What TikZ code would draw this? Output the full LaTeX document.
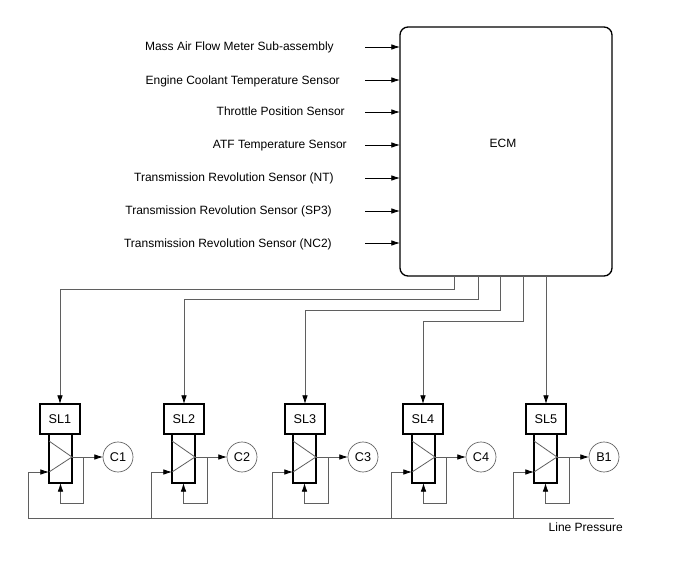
\documentclass[tikz,border=0pt]{standalone}
\usepackage{fontspec}
\setmainfont{Liberation Sans}
\usetikzlibrary{arrows.meta,positioning}
\definecolor{cablegris}{RGB}{95,95,95}
\tikzset{
  flecha/.style={black,line width=0.6pt,-{Latex[length=6.5pt,width=4.2pt]}},
  cable/.style={cablegris,line width=0.6pt},
  cableflecha/.style={cable,-{Latex[black,length=6.5pt,width=4.2pt]}},
  sensor/.style={anchor=east,inner sep=0pt,font=\fontsize{9pt}{10pt}\selectfont},
  texto/.style={inner sep=0pt,font=\fontsize{9pt}{10pt}\selectfont},
  solenoide/.style={draw,line width=1.1pt,minimum width=30pt,minimum height=22.5pt,inner sep=0pt,outer sep=0pt,font=\fontsize{9.5pt}{10pt}\selectfont},
  valvula/.style={draw,line width=1.1pt,minimum width=17.25pt,minimum height=36.75pt,inner sep=0pt,outer sep=0pt},
  embrague/.style={circle,draw=cablegris,line width=0.5pt,minimum size=22.5pt,inner sep=0pt,outer sep=0pt,font=\fontsize{9.5pt}{10pt}\selectfont},
  cuna/.style={cablegris,line width=0.6pt}
}
\begin{document}
\begin{tikzpicture}[x=0.75pt,y=-0.75pt]
  \useasboundingbox (0,0) rectangle (688,560);
  % ECM
  \node[draw,line width=1pt,rounded corners=6pt,minimum width=159pt,minimum height=186.75pt,inner sep=0pt,outer sep=0pt] (ecm) at (506,151.5) {};
  \node[texto] (ecmtxt) at (503,143) {ECM};
  % Sensores
  \node[sensor] (s1) at (334,47) {Mass Air Flow Meter Sub-assembly};
  \node[sensor] (s2) at (340,81) {Engine Coolant Temperature Sensor};
  \node[sensor] (s3) at (345,111) {Throttle Position Sensor};
  \node[sensor] (s4) at (347,146) {ATF Temperature Sensor};
  \node[sensor] (s5) at (334,178) {Transmission Revolution Sensor (NT)};
  \node[sensor] (s6) at (332,211) {Transmission Revolution Sensor (SP3)};
  \node[sensor] (s7) at (332,244) {Transmission Revolution Sensor (NC2)};
  \coordinate (e1) at (365,47);
  \coordinate (e2) at (365,80);
  \coordinate (e3) at (365,112);
  \coordinate (e4) at (365,145);
  \coordinate (e5) at (365,178);
  \coordinate (e6) at (365,211);
  \coordinate (e7) at (365,243);
  \draw[flecha] (e1) -- (e1 -| ecm.west);
  \draw[flecha] (e2) -- (e2 -| ecm.west);
  \draw[flecha] (e3) -- (e3 -| ecm.west);
  \draw[flecha] (e4) -- (e4 -| ecm.west);
  \draw[flecha] (e5) -- (e5 -| ecm.west);
  \draw[flecha] (e6) -- (e6 -| ecm.west);
  \draw[flecha] (e7) -- (e7 -| ecm.west);
  % Solenoides
  \node[solenoide] (sl1) at (60,419) {SL1};
  \node[solenoide] (sl2) at (184,419) {SL2};
  \node[solenoide] (sl3) at (305,419) {SL3};
  \node[solenoide] (sl4) at (423,419) {SL4};
  \node[solenoide] (sl5) at (546,419) {SL5};
  % Valvulas
  \node[valvula] (v1) at (60.5,458.5) {};
  \node[valvula] (v2) at (183.5,458.5) {};
  \node[valvula] (v3) at (304.5,458.5) {};
  \node[valvula] (v4) at (423.5,458.5) {};
  \node[valvula] (v5) at (545.5,458.5) {};
  % Embragues
  \node[embrague] (c1) at (118,457) {C1};
  \node[embrague] (c2) at (242,457) {C2};
  \node[embrague] (c3) at (363,457) {C3};
  \node[embrague] (c4) at (481,457) {C4};
  \node[embrague] (b1) at (604,457) {B1};
  % Salidas del ECM
  \coordinate (q1) at (454,276);
  \coordinate (q2) at (478,276);
  \coordinate (q3) at (500,276);
  \coordinate (q4) at (523,276);
  \draw[cableflecha] (q1) |- (sl1.north |- 0,289) -- (sl1.north);
  \draw[cableflecha] (q2) |- (sl2.north |- 0,299) -- (sl2.north);
  \draw[cableflecha] (q3) |- (sl3.north |- 0,310) -- (sl3.north);
  \draw[cableflecha] (q4) |- (sl4.north |- 0,321) -- (sl4.north);
  \draw[cableflecha] (ecm.south -| sl5.north) -- (sl5.north);
  % Cunas
  \draw[cuna] (v1.west |- 0,441) -- (v1.east |- 0,457) -- (v1.west |- 0,472);
  \draw[cuna] (v2.west |- 0,441) -- (v2.east |- 0,457) -- (v2.west |- 0,472);
  \draw[cuna] (v3.west |- 0,441) -- (v3.east |- 0,457) -- (v3.west |- 0,472);
  \draw[cuna] (v4.west |- 0,441) -- (v4.east |- 0,457) -- (v4.west |- 0,472);
  \draw[cuna] (v5.west |- 0,441) -- (v5.east |- 0,457) -- (v5.west |- 0,472);
  % Salida a cada embrague
  \draw[cableflecha] (v1.east |- c1) -- (c1);
  \draw[cableflecha] (v2.east |- c2) -- (c2);
  \draw[cableflecha] (v3.east |- c3) -- (c3);
  \draw[cableflecha] (v4.east |- c4) -- (c4);
  \draw[cableflecha] (v5.east |- b1) -- (b1);
  % Realimentacion
  \draw[cableflecha] (83,457) |- (v1.south |- 0,503) -- (v1.south);
  \draw[cableflecha] (207,457) |- (v2.south |- 0,503) -- (v2.south);
  \draw[cableflecha] (328,457) |- (v3.south |- 0,503) -- (v3.south);
  \draw[cableflecha] (446,457) |- (v4.south |- 0,503) -- (v4.south);
  \draw[cableflecha] (569,457) |- (v5.south |- 0,503) -- (v5.south);
  % Presion de linea
  \coordinate (lpi) at (28,518);
  \coordinate (lpf) at (614,518);
  \draw[cable] (lpi) -- (lpf);
  \node[texto,anchor=east] (lp) at (623,527) {Line Pressure};
  \draw[cableflecha] (lpi) |- (v1.west |- 0,472);
  \draw[cableflecha] (lpi -| 151,0) |- (v2.west |- 0,472);
  \draw[cableflecha] (lpi -| 272,0) |- (v3.west |- 0,472);
  \draw[cableflecha] (lpi -| 391,0) |- (v4.west |- 0,472);
  \draw[cableflecha] (lpi -| 513,0) |- (v5.west |- 0,472);
\end{tikzpicture}
\end{document}
